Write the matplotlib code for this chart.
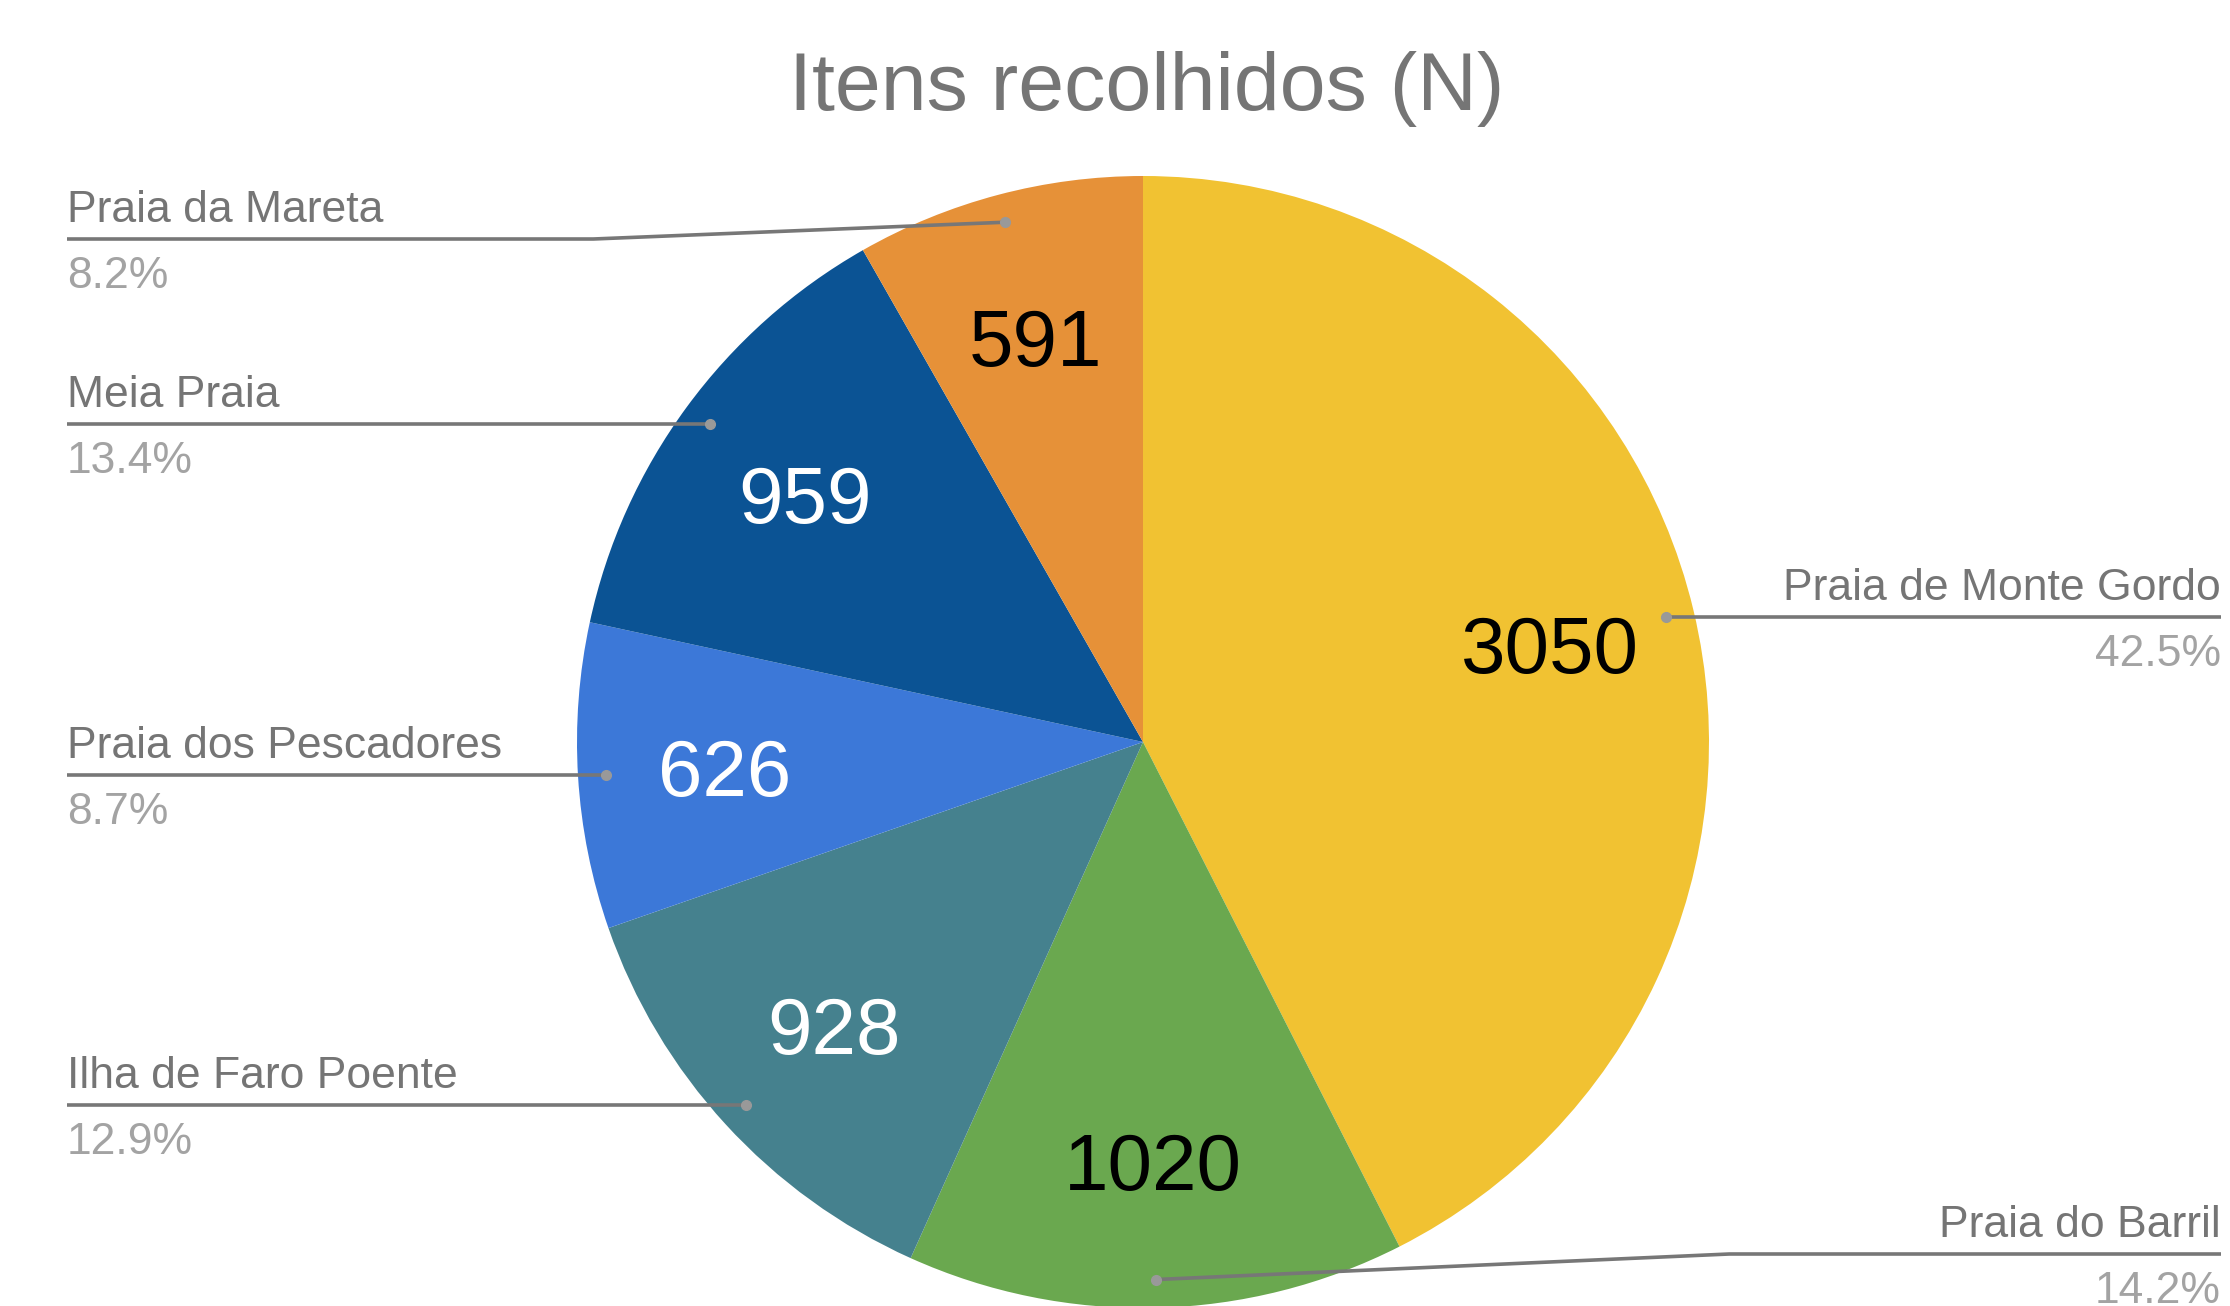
import matplotlib.pyplot as plt
import numpy as np

plt.rcParams['font.family'] = ['Liberation Sans', 'DejaVu Sans']

title = 'Itens recolhidos (N)'
beaches = ['Praia de Monte Gordo', 'Praia do Barril', 'Ilha de Faro Poente',
           'Praia dos Pescadores', 'Meia Praia', 'Praia da Mareta']
items = [3050, 1020, 928, 626, 959, 591]
slice_colors = ['#f1c232', '#6aa84f', '#45818e', '#3c78d8', '#0b5394', '#e69138']
value_colors = ['black', 'black', 'white', 'white', 'white', 'black']

W, H = 2230, 1306
cx, cy, r = 1143, H - 742, 566

fig = plt.figure(figsize=(W / 100, H / 100), dpi=100)
ax = fig.add_axes([0, 0, 1, 1])

wedges, _ = ax.pie(items, colors=slice_colors, startangle=90, counterclock=False,
                   center=(cx, cy), radius=r, wedgeprops=dict(linewidth=0))
ax.set_xlim(0, W)
ax.set_ylim(0, H)
ax.set_aspect('equal')
ax.axis('off')

ax.text(1147, H - 110, title, ha='center', va='baseline', fontsize=59.4, color='#757575')

total = sum(items)
renderer = fig.canvas.get_renderer()
inv = ax.transData.inverted()

for w, v, name, tc in zip(wedges, items, beaches, value_colors):
    ang = np.deg2rad((w.theta1 + w.theta2) / 2)
    c, s = np.cos(ang), np.sin(ang)
    ax.text(cx + 0.74 * r * c, cy + 0.74 * r * s, str(v), ha='center',
            va='center_baseline', fontsize=57.6, color=tc)

    # leader dot near the rim, label line snapped to the dot height
    dx, dy = cx + 0.95 * r * c, cy + 0.95 * r * s
    ly = float(np.clip(dy, H - 1254, H - 239))
    if c >= 0:
        tx, ha = 2221, 'right'
    else:
        tx, ha = 67, 'left'
    t = ax.text(tx, ly + 17, name, ha=ha, va='baseline', fontsize=32, color='#757575')
    ax.text(tx, ly - 49, f'{v / total * 100:.1f}%', ha=ha, va='baseline',
            fontsize=32, color='#a3a3a3')

    if abs(ly - dy) < 1:
        xs, ys = [tx, dx], [ly, ly]
    else:
        bb = t.get_window_extent(renderer).transformed(inv)
        bend = bb.x1 + 210 if c < 0 else bb.x0 - 210
        xs, ys = [tx, bend, dx], [ly, ly, dy]
    ax.plot(xs, ys, color='#777777', lw=2.6, solid_capstyle='butt', zorder=3)
    ax.plot(dx, dy, 'o', color='#999999', ms=7, zorder=4)

fig.savefig('out.png', dpi=100)
